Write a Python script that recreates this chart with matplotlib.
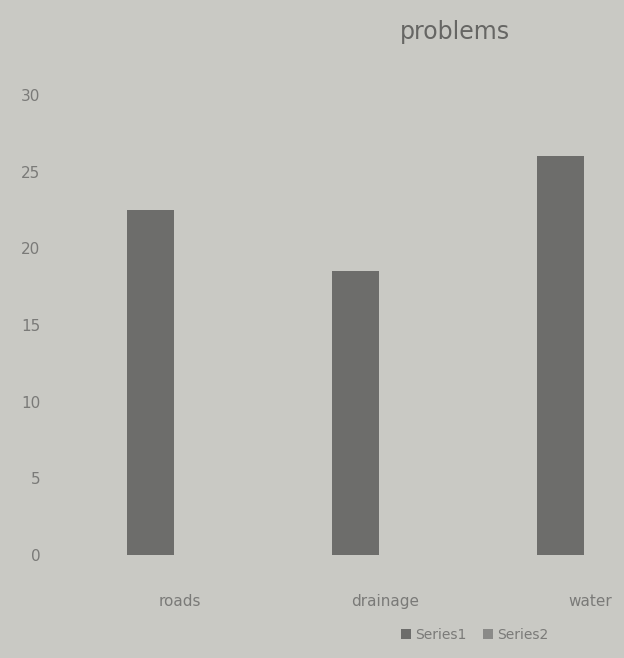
import matplotlib.pyplot as plt
import matplotlib.transforms as mtransforms
import numpy as np

# dados do grafico
categorias = ["roads", "drainage", "water"]
serie1 = [22.5, 18.5, 26.0]
serie2 = [0, 0, 0]
ticks_y = [0, 5, 10, 15, 20, 25, 30]

fundo = "#c9c9c4"
cor_barra = "#6d6d6b"
cor_texto = "#7a7a78"

fig = plt.figure(figsize=(6.24, 6.58), dpi=100)
fig.patch.set_facecolor(fundo)
ax = fig.add_axes([60 / 624, 103 / 658, 564 / 624, 460 / 658])
ax.set_facecolor(fundo)

x = np.arange(len(categorias))
ax.bar(x, serie1, width=0.23, color=cor_barra, label="Series1")
ax.bar(x, serie2, width=0.23, color="#8a8a88", label="Series2")

ax.set_xlim(-0.44, 2.31)
ax.set_ylim(0, 30)
ax.set_yticks(ticks_y)
ax.set_xticks(x)
ax.set_xticklabels(categorias)
ax.tick_params(length=0, colors=cor_texto, labelsize=11)
ax.tick_params(axis="x", pad=28)
ax.tick_params(axis="y", pad=14)
for s in ax.spines.values():
    s.set_visible(False)

# rotulos das categorias um pouco deslocados para a direita, como na foto
desloc = mtransforms.ScaledTranslation(0.3, 0, fig.dpi_scale_trans)
for lbl in ax.get_xticklabels():
    lbl.set_transform(lbl.get_transform() + desloc)

fig.text(455 / 624, 1 - 32 / 658, "problems", ha="center", va="center",
         fontsize=17, color="#666664")

fig.legend(loc="center", bbox_to_anchor=(475 / 624, 1 - 635 / 658), ncol=2,
           frameon=False, fontsize=10, labelcolor=cor_texto,
           handlelength=0.7, handleheight=0.7, handletextpad=0.3,
           columnspacing=1.2)

fig.savefig("out.png", dpi=100, facecolor=fundo)
